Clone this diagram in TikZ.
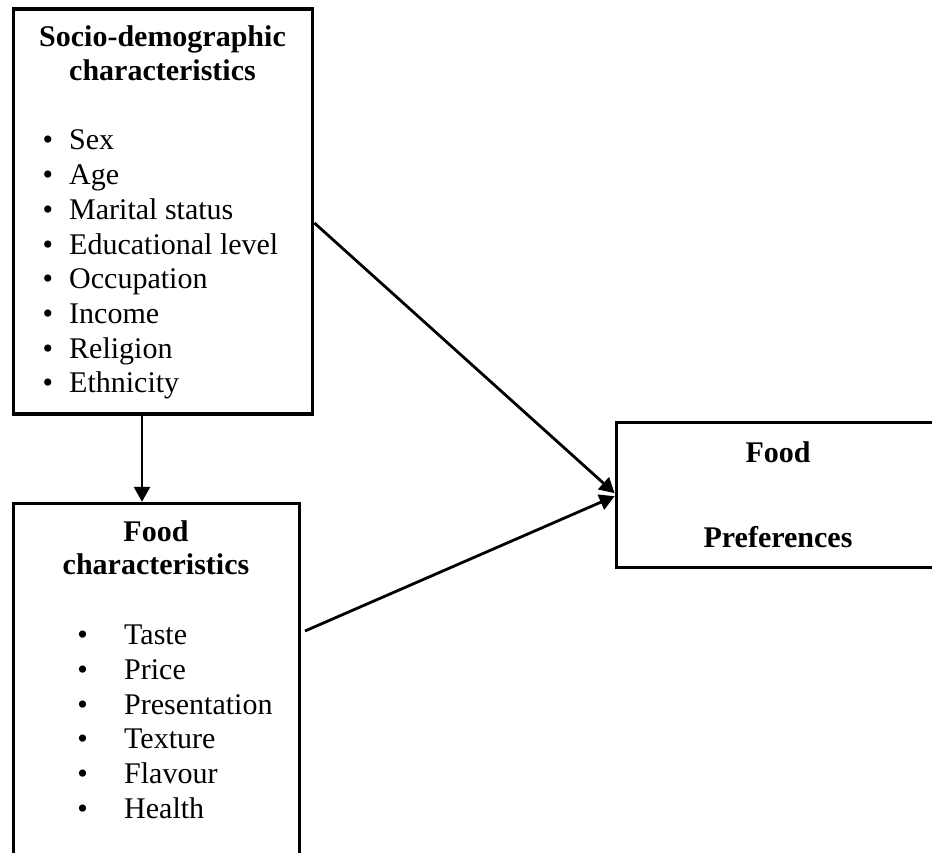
\documentclass[tikz,border=0pt]{standalone}
\usepackage{fontspec}
\setmainfont{Liberation Serif}
\usetikzlibrary{arrows.meta}
\begin{document}
\begin{tikzpicture}[x=1pt,y=1pt,
  frame/.style={draw, line width=3.4pt, rectangle, inner sep=0pt},
  txt/.style={inner sep=0pt, font=\fontsize{30}{35}\selectfont},
  head/.style={txt, font=\fontsize{30}{35}\selectfont\bfseries, anchor=base},
  dot/.style={txt, anchor=base},
  item/.style={txt, anchor=base west},
  link/.style={line width=2.8pt, -{Triangle[length=15pt,width=16pt]}}]
\useasboundingbox (0,0) rectangle (932,852);
\clip (0,0) rectangle (932,852);

% boxes
\node[frame, minimum width=299.2pt, minimum height=405pt] (socio) at (163.1,640.5) {};
\node[frame, minimum width=286.2pt, minimum height=396.5pt] (food) at (156.6,150.25) {};
\node[frame, minimum width=323.7pt, minimum height=145pt] (pref) at (778.15,356.8) {};

% socio-demographic box
\node[head] (sochead1) at (162.5,805.3) {Socio-demographic};
\node[head] (sochead2) at (162.5,771.3) {characteristics};
\foreach \t [count=\i from 0] in {Sex, Age, Marital status, Educational level,
    Occupation, Income, Religion, Ethnicity} {
  \node[dot] (sdot\i) at (48,702-34.7*\i) {•};
  \node[item] (sitem\i) at (69,702-34.7*\i) {\t};
}

% food characteristics box
\node[head] (foodhead1) at (156,310.3) {Food};
\node[head] (foodhead2) at (156,277) {characteristics};
\foreach \t [count=\i from 0] in {Taste, Price, Presentation, Texture, Flavour, Health} {
  \node[dot] (fdot\i) at (82.7,207-34.6*\i) {•};
  \node[item] (fitem\i) at (124,207-34.6*\i) {\t};
}

% food preferences box
\node[head] (prefhead1) at (778,389.3) {Food};
\node[head] (prefhead2) at (778,304) {Preferences};

% connectors
\coordinate (downx) at (142,0);
\coordinate (foodout) at (305,221);
\draw[link] (socio.south -| downx) -- (food.north -| downx);
\draw[link] ([yshift=-11.5pt]socio.east) -- ([yshift=2pt]pref.west);
\draw[link] (foodout) -- ([yshift=-1pt]pref.west);
\end{tikzpicture}
\end{document}
